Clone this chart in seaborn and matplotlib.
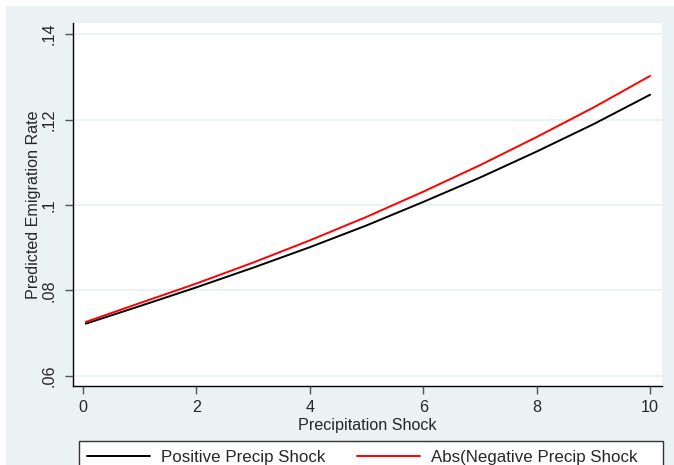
import matplotlib
matplotlib.use("Agg")
import matplotlib.pyplot as plt
import matplotlib.patches as mpatches
import pandas as pd
import seaborn as sns

# predicted emigration rate
shock = [0.05, 1, 2, 3, 4, 5, 6, 7, 8, 9, 10]
positive = [0.0722, 0.0763, 0.0807, 0.0853, 0.0901, 0.0952, 0.1007, 0.1064, 0.1125, 0.1189, 0.1258]
negative = [0.0726, 0.0770, 0.0816, 0.0865, 0.0917, 0.0972, 0.1031, 0.1093, 0.1159, 0.1228, 0.1302]
series = ["Positive Precip Shock", "Abs(Negative Precip Shock"]
xticks = [0, 2, 4, 6, 8, 10]
yticks = [0.06, 0.08, 0.10, 0.12, 0.14]
ytick_labels = [".06", ".08", ".1", ".12", ".14"]

bg = "#eaf2f3"

sns.set_style("white")
plt.rcParams["font.family"] = ["Liberation Sans", "DejaVu Sans"]

df = pd.DataFrame({
    "shock": shock * 2,
    "rate": positive + negative,
    "series": [series[0]] * len(shock) + [series[1]] * len(shock),
})

fig = plt.figure(figsize=(6.74, 4.65), dpi=100, facecolor="white")
fig.patches.append(mpatches.Rectangle((6 / 674, 0), 1, 459 / 465, transform=fig.transFigure,
                                      facecolor=bg, edgecolor="none", zorder=-10))
ax = fig.add_axes([73 / 674, 79 / 465, 589 / 674, 363 / 465])
ax.set_facecolor("white")

sns.lineplot(data=df, x="shock", y="rate", hue="series", hue_order=series,
             palette=["black", "#ff0000"], linewidth=1.4, ax=ax, legend=True)

ax.set_xlim(-0.176, 10.21)
ax.set_ylim(0.0576, 0.1426)
ax.set_xticks(xticks)
ax.set_xticklabels([str(t) for t in xticks], fontsize=11.6)
ax.set_yticks(yticks)
ax.set_yticklabels(ytick_labels, fontsize=11.6, rotation=90, va="center")
ax.yaxis.grid(True, color=bg, linewidth=1.5)
ax.set_axisbelow(True)
ax.tick_params(axis="both", direction="out", length=6, width=1, color="#555555", pad=4, left=True, bottom=True)
ax.tick_params(axis="y", pad=6)
for s in ["top", "right"]:
    ax.spines[s].set_visible(False)
for s in ["left", "bottom"]:
    ax.spines[s].set_color("black")
    ax.spines[s].set_linewidth(1)

ax.set_xlabel("Precipitation Shock", fontsize=11.6, labelpad=2)
ax.set_ylabel("Predicted Emigration Rate", fontsize=11.6, labelpad=0.5)

# legend box (cut off by the bottom edge, as in the original)
fig.patches.append(mpatches.Rectangle((79 / 674, -0.1), 584 / 674, 0.1 + 24 / 465,
                                      transform=fig.transFigure, facecolor="white",
                                      edgecolor="#333333", linewidth=1, zorder=-5))
handles, labels = ax.get_legend_handles_labels()
ax.get_legend().remove()
leg = fig.legend(handles, labels, loc="upper left", ncol=2,
                 bbox_to_anchor=(87 / 674, 15 / 465),
                 fontsize=12.2, frameon=False, handlelength=3.7,
                 borderaxespad=0, borderpad=0, handletextpad=0.65, columnspacing=1.9)

fig.savefig("out.png", dpi=100, facecolor="white")
